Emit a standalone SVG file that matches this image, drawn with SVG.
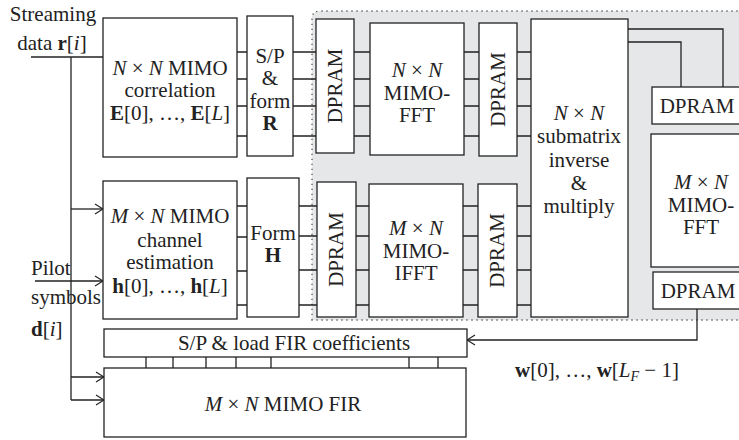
<svg xmlns="http://www.w3.org/2000/svg" width="739" height="440" viewBox="0 0 739 440">
<defs>
<marker id="arr" markerWidth="10" markerHeight="12" refX="9" refY="6" orient="auto" markerUnits="userSpaceOnUse"><path d="M1,1 L9,6 L1,11" fill="none" stroke="#222" stroke-width="1.2"/></marker>
</defs>
<style>
.box{fill:#fff;stroke:#222;stroke-width:1.3}
.ln{fill:none;stroke:#222;stroke-width:1.3}
.region{fill:#e6e7e9;stroke:#555;stroke-width:1.3;stroke-dasharray:1.3 3.7}
text{font-family:"Liberation Serif","Times New Roman",serif;font-size:21px;fill:#222;text-anchor:middle}
.l{text-anchor:start}
.i{font-style:italic}
.b{font-weight:bold}
</style>
<rect width="739" height="440" fill="#fff"/>
<path class="region" d="M312,320 L312,19 Q312,11 320,11 L745,11 L745,320 Z"/>

<g id="connectors">
  <path class="ln" d="M31,57 H103"/>
  <path class="ln" d="M71,57 V400"/>
  <path class="ln" d="M71,209 H103" marker-end="url(#arr)"/>
  <path class="ln" d="M35,281 H103" marker-end="url(#arr)"/>
  <path class="ln" d="M71,377 H104" marker-end="url(#arr)"/>
  <path class="ln" d="M71,400 H104" marker-end="url(#arr)"/>
  <path class="ln" d="M237,52 H247 M237,79 H247 M237,106 H247 M237,136 H247"/>
  <path class="ln" d="M293,52 H316 M293,79 H316 M293,106 H316 M293,136 H316"/>
  <path class="ln" d="M354,52 H370 M354,79 H370 M354,106 H370 M354,136 H370"/>
  <path class="ln" d="M464,52 H479 M464,79 H479 M464,106 H479 M464,136 H479"/>
  <path class="ln" d="M517,52 H531 M517,79 H531 M517,106 H531 M517,136 H531"/>
  <path class="ln" d="M237,206 H247 M237,237 H247 M237,271 H247 M237,305 H247"/>
  <path class="ln" d="M299,206 H317 M299,236 H317 M299,270 H317 M299,305 H317"/>
  <path class="ln" d="M356,206 H369 M356,236 H369 M356,270 H369 M356,305 H369"/>
  <path class="ln" d="M463,206 H478 M463,236 H478 M463,270 H478 M463,305 H478"/>
  <path class="ln" d="M517,206 H531 M517,236 H531 M517,270 H531 M517,305 H531"/>
  <path class="ln" d="M628,29 H723 V87"/>
  <path class="ln" d="M628,42 H681 V87"/>
  <path class="ln" d="M697,309 V340 H467" marker-end="url(#arr)"/>
  <path class="ln" d="M146,357 V368 M173,357 V368 M206,357 V368 M236,357 V368 M271,357 V368 M409,357 V368 M438,357 V368"/>
</g>

<g id="labels">
  <text x="53" y="21">Streaming</text>
  <text x="52" y="50">data <tspan class="b">r</tspan>[<tspan class="i">i</tspan>]</text>
  <text class="l" x="31" y="275">Pilot</text>
  <text class="l" x="31" y="304">symbols</text>
  <text class="l" x="31" y="336"><tspan class="b">d</tspan>[<tspan class="i">i</tspan>]</text>
  <text class="l" x="515" y="377"><tspan class="b">w</tspan>[0], …, <tspan class="b">w</tspan>[<tspan class="i">L</tspan><tspan class="i" font-size="14" dy="4">F</tspan><tspan dy="-4"> − 1]</tspan></text>
</g>

<g id="corr">
  <rect class="box" x="103" y="18" width="134" height="139"/>
  <text x="170" y="75"><tspan class="i">N</tspan> × <tspan class="i">N</tspan> MIMO</text>
  <text x="170" y="97">correlation</text>
  <text x="170" y="120"><tspan class="b">E</tspan>[0], …, <tspan class="b">E</tspan>[<tspan class="i">L</tspan>]</text>
</g>
<g id="spformR">
  <rect class="box" x="247" y="16" width="46" height="140"/>
  <text x="270" y="63">S/P</text>
  <text x="270" y="85">&amp;</text>
  <text x="270" y="108">form</text>
  <text x="270" y="130" class="b">R</text>
</g>
<g id="dpram1">
  <rect class="box" x="316" y="19" width="38" height="134"/>
  <text transform="translate(342,86) rotate(-90)">DPRAM</text>
</g>
<g id="fft">
  <rect class="box" x="370" y="23" width="94" height="132"/>
  <text x="417" y="77"><tspan class="i">N</tspan> × <tspan class="i">N</tspan></text>
  <text x="417" y="100">MIMO-</text>
  <text x="417" y="122">FFT</text>
</g>
<g id="dpram2">
  <rect class="box" x="479" y="23" width="38" height="133"/>
  <text transform="translate(505,89.5) rotate(-90)">DPRAM</text>
</g>
<g id="submatrix">
  <rect class="box" x="531" y="19" width="97" height="298"/>
  <text x="579" y="120"><tspan class="i">N</tspan> × <tspan class="i">N</tspan></text>
  <text x="579" y="143">submatrix</text>
  <text x="579" y="167">inverse</text>
  <text x="579" y="190">&amp;</text>
  <text x="579" y="213">multiply</text>
</g>
<g id="chest">
  <rect class="box" x="103" y="181" width="134" height="138"/>
  <text x="170" y="223"><tspan class="i">M</tspan> × <tspan class="i">N</tspan> MIMO</text>
  <text x="170" y="247">channel</text>
  <text x="170" y="269">estimation</text>
  <text x="170" y="293"><tspan class="b">h</tspan>[0], …, <tspan class="b">h</tspan>[<tspan class="i">L</tspan>]</text>
</g>
<g id="formH">
  <rect class="box" x="247" y="178" width="52" height="139"/>
  <text x="273" y="240">Form</text>
  <text x="273" y="262" class="b">H</text>
</g>
<g id="dpram3">
  <rect class="box" x="317" y="182" width="39" height="135"/>
  <text transform="translate(343,249.5) rotate(-90)">DPRAM</text>
</g>
<g id="ifft">
  <rect class="box" x="369" y="184" width="94" height="133"/>
  <text x="416" y="235"><tspan class="i">M</tspan> × <tspan class="i">N</tspan></text>
  <text x="416" y="258">MIMO-</text>
  <text x="416" y="280">IFFT</text>
</g>
<g id="dpram4">
  <rect class="box" x="478" y="184" width="39" height="133"/>
  <text transform="translate(504,250.5) rotate(-90)">DPRAM</text>
</g>
<g id="dpramR1">
  <rect class="box" x="652" y="87" width="95" height="37"/>
  <text x="697" y="113">DPRAM</text>
</g>
<g id="fftR">
  <rect class="box" x="651" y="134" width="96" height="133"/>
  <text x="701" y="189"><tspan class="i">M</tspan> × <tspan class="i">N</tspan></text>
  <text x="701" y="212">MIMO-</text>
  <text x="701" y="234">FFT</text>
</g>
<g id="dpramR2">
  <rect class="box" x="653" y="272" width="94" height="37"/>
  <text x="698" y="298">DPRAM</text>
</g>
<g id="spload">
  <rect class="box" x="104" y="329" width="363" height="28"/>
  <text x="294" y="350">S/P &amp; load FIR coefficients</text>
</g>
<g id="fir">
  <rect class="box" x="104" y="368" width="362" height="69"/>
  <text x="283" y="411"><tspan class="i">M</tspan> × <tspan class="i">N</tspan> MIMO FIR</text>
</g>
</svg>
